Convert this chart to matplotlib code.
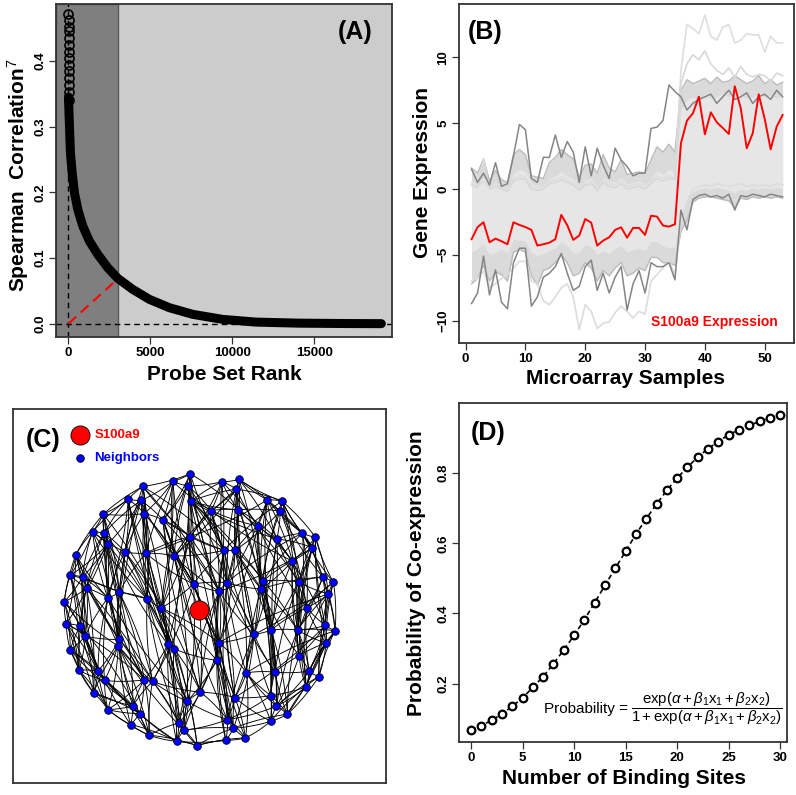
import numpy as np
import matplotlib
matplotlib.use("Agg")
import matplotlib.pyplot as plt
from matplotlib.collections import LineCollection

plt.rcParams["font.family"] = ["Liberation Sans", "DejaVu Sans"]
plt.rcParams["font.weight"] = "bold"
plt.rcParams["mathtext.fontset"] = "custom"
plt.rcParams["mathtext.rm"] = "Liberation Sans:regular"
plt.rcParams["mathtext.it"] = "Liberation Sans:italic:regular"
plt.rcParams["mathtext.bf"] = "Liberation Sans:bold"

# ---------------- (A) ranked correlations ----------------
rank_pts = [1, 63, 122, 226, 366, 569, 874, 1280, 1789, 2399, 3008, 3923, 4939,
            6159, 7584, 9413, 11445, 14000, 17000, 19100]
corr_pts = [0.345, 0.30, 0.26, 0.2298, 0.1994, 0.174, 0.1486, 0.1257, 0.1055,
            0.0852, 0.069, 0.0522, 0.037, 0.0243, 0.0142, 0.0065, 0.0024, 0.0008,
            0.0002, 0.0]
top_rank = [2, 4, 6, 8, 10, 12, 14, 16, 18, 20, 22, 24, 26, 28]
top_corr = [0.4716, 0.462, 0.452, 0.445, 0.4345, 0.424, 0.414, 0.404, 0.394,
            0.384, 0.374, 0.363, 0.353, 0.341]
cutoff_rank = 3000
cutoff_corr = 0.068

# ---------------- (B) expression profiles ----------------
s100a9 = [-3.82, -2.9, -2.53, -4.05, -3.77, -3.97, -4.2, -2.53, -2.73, -2.89,
          -3.11, -4.3, -4.2, -4.08, -3.82, -1.97, -2.76, -3.87, -3.54, -2.28,
          -2.56, -4.3, -3.92, -3.67, -3.11, -2.91, -3.7, -2.96, -2.96, -3.49,
          -2.03, -2.1, -2.78, -2.86, -2.68, 3.47, 5.19, 5.75, 7.01, 4.15,
          5.82, 5.06, 4.63, 4.18, 7.8, 6.13, 3.09, 4.23, 7.19, 5.32,
          3.01, 4.73, 5.62]
core_hi = [0.6, 0.3, 0.9, 0.2, 0.5, 0.2, 0.1, 1.2, 1.5, 1.3, 0.4, 0.3, 0.3, 0.8,
           1.0, 1.3, 1.0, 0.8, 0.2, 0.7, 0.8, 0.3, 0.9, 0.6, 0.5, 0.9, 0.4, 0.5,
           0.6, 0.4, 0.8, 1.4, 1.1, 1.5, 1.2,
           6.0, 6.8, 7.0, 6.8, 7.2, 6.9, 7.0, 7.3, 7.0, 7.4, 7.1, 6.9, 7.0, 7.3,
           7.0, 7.1, 6.9, 7.2]
core_lo = [-4.8, -4.5, -4.2, -5.0, -4.8, -4.6, -4.9, -3.8, -3.9, -4.0, -4.8, -5.1,
           -4.9, -4.7, -4.5, -4.0, -4.3, -4.9, -4.8, -4.2, -4.4, -5.0, -4.7, -4.9,
           -4.5, -4.3, -4.8, -4.6, -4.5, -4.7, -4.0, -4.0, -4.3, -4.5, -4.4,
           -2.0, -0.8, -0.2, 0.0, 0.1, 0.0, 0.1, 0.0, -0.1, -0.3, 0.0, -0.1, 0.1,
           0.0, 0.1, 0.0, 0.1, 0.0]
outer_hi = [1.6, 1.2, 2.3, 0.6, 1.4, 0.7, 0.5, 2.6, 3.0, 2.6, 1.0, 0.9, 0.8, 2.0,
            2.4, 3.0, 2.6, 2.3, 0.9, 1.8, 1.9, 1.2, 2.6, 1.6, 1.3, 2.2, 1.1, 1.2,
            1.3, 1.2, 2.2, 3.2, 2.8, 3.4, 2.8,
            7.5, 8.3, 8.0, 8.2, 8.4, 8.0, 8.5, 8.1, 8.2, 8.6, 8.3, 8.0, 8.2, 8.6,
            8.0, 8.3, 7.9, 8.1]
outer_lo = [-7.2, -6.8, -5.8, -7.0, -6.3, -6.5, -7.0, -4.8, -4.6, -4.8, -6.6, -7.3,
            -6.2, -6.0, -5.6, -5.0, -5.6, -6.6, -6.4, -5.6, -6.0, -7.0, -6.2, -6.6,
            -6.0, -5.6, -6.6, -6.4, -6.0, -6.2, -5.2, -5.2, -5.6, -5.6, -5.8,
            -3.2, -2.4, -1.0, -0.7, -0.6, -0.6, -0.7, -0.8, -0.9, -1.4, -0.7, -0.8,
            -0.6, -0.7, -0.6, -0.7, -0.6, -0.7]
dark_hi = [1.5, 0.5, 1.2, 0.3, 2.0, 0.2, 0.4, 2.5, 4.9, 4.5, 0.8, 0.5, 2.4, 2.4,
           4.1, 2.4, 3.6, 2.8, 0.5, 3.2, 1.0, 3.1, 1.8, 0.8, 3.1, 2.2, 1.7, 1.0,
           1.2, 1.2, 4.6, 4.7, 5.2, 7.9, 7.4,
           7.0, 6.0, 6.5, 6.8, 7.0, 7.2, 6.5, 7.0, 7.5, 6.8, 7.0, 7.3, 6.5, 7.0,
           7.2, 6.8, 7.5, 7.0]
dark_lo = [-8.7, -7.9, -5.1, -8.05, -6.15, -8.6, -9.1, -5.6, -4.5, -4.5, -8.9, -8.2,
           -6.7, -6.4, -5.9, -4.9, -6.4, -7.7, -7.4, -5.9, -5.4, -7.7, -6.4, -7.9,
           -6.7, -5.9, -9.2, -7.2, -6.2, -7.9, -5.6, -5.9, -5.9, -5.6, -6.9,
           -1.6, -3.1, -0.8, -0.5, -0.4, -0.6, -0.5, -0.7, -0.4, -1.6, -0.5, -0.6,
           -0.4, -0.5, -0.6, -0.4, -0.5, -0.6]
light_lo = [-7.0, -6.8, -6.2, -7.5, -7.2, -6.8, -6.5, -6.0, -5.5, -5.5, -7.0, -7.2,
            -8.5, -8.8, -8.2, -7.5, -7.2, -8.2, -10.7, -8.8, -9.3, -10.6, -10.2,
            -10.1, -9.4, -8.9, -9.3, -9.8, -9.3, -9.5, -7.0, -6.5, -6.0, -5.5, -6.5,
            -2.5, -1.0, 0.0, 0.2, 0.3, 0.2, 0.4, 0.3, 0.2, 0.3, 0.4, 0.2, 0.3, 0.2,
            0.3, 0.2, 0.4, 0.3]
light_hi = [0.5, 0.2, 0.6, 0.1, 0.3, 0.1, 0.0, 0.8, 1.0, 0.9, 0.2, 0.1, 0.2, 0.6,
            0.7, 0.9, 0.7, 0.5, 0.1, 0.5, 0.6, 0.1, 0.7, 0.4, 0.3, 0.6, 0.2, 0.3,
            0.4, 0.2, 0.6, 1.0, 0.8, 1.0, 0.9,
            9.0, 12.5, 12.2, 11.8, 13.2, 11.6, 11.3, 12.3, 12.5, 11.1, 11.3, 11.8,
            11.7, 11.7, 10.4, 11.6, 11.1, 11.1]
light_hi2 = [0.3, 0.1, 2.3, 0.0, 0.2, 0.0, -0.2, 0.6, 0.8, 0.7, 0.0, -0.1, 0.0,
             0.4, 0.5, 0.7, 0.5, 0.3, -0.1, 0.3, 0.4, -0.1, 0.5, 0.2, 0.1, 0.4,
             0.0, 0.1, 0.2, 0.0, 0.4, 0.8, 0.6, 0.8, 0.7,
             8.0, 9.5, 10.2, 9.8, 10.5, 9.5, 9.0, 8.7, 9.2, 8.5, 9.3, 8.7, 8.5,
             8.7, 8.6, 8.2, 8.8, 8.6]

# ---------------- (C) co-expression network ----------------
node_x = [570, 518, 428, 562, 665, 716, 709, 384, 422, 573, 801, 846, 309, 432,
          488, 633, 715, 840, 773, 277, 312, 570, 830, 907, 946, 322, 937, 227,
          374, 437, 522, 672, 705, 877, 210, 247, 968, 1000, 580, 680, 789, 896,
          259, 657, 783, 985, 192, 323, 357, 441, 483, 920, 198, 240, 976, 1005,
          813, 893, 255, 762, 357, 354, 503, 521, 657, 978, 210, 897, 650, 236,
          293, 313, 432, 457, 739, 825, 927, 956, 918, 280, 601, 704, 812, 561,
          398, 323, 829, 418, 862, 682, 536, 391, 812, 700, 552, 447, 736, 677,
          529, 591]
node_y = [222, 245, 260, 258, 246, 239, 268, 298, 302, 304, 300, 304, 343, 341,
          360, 332, 330, 334, 378, 396, 400, 410, 417, 400, 412, 433, 443, 464,
          456, 460, 468, 451, 451, 483, 526, 531, 531, 547, 552, 548, 543, 546,
          564, 574, 567, 582, 605, 594, 577, 596, 624, 623, 671, 678, 676, 692,
          690, 690, 708, 703, 718, 738, 733, 746, 728, 729, 750, 767, 781, 810,
          813, 841, 839, 844, 818, 816, 813, 830, 860, 878, 876, 892, 886, 903,
          917, 928, 918, 940, 942, 958, 968, 973, 963, 984, 990, 1005, 1013, 1020,
          1023, 1036]
hub_x, hub_y = 597, 630
edge_list = """
0-2 0-9 0-14 0-31 0-1 1-3 1-13 1-29 1-8 2-7 2-13 2-21 2-49 3-4 3-15 3-30 3-38
4-5 4-6 4-16 4-43 5-10 5-17 5-39 6-11 6-18 6-32 6-21 7-12 7-19 7-28 7-50
8-14 8-20 8-25 8-62 9-15 9-22 9-40 9-16 10-11 10-23 10-33 10-44 11-24 11-26
11-41 12-13 12-25 12-27 12-47 13-28 13-30 13-49 14-21 14-31 14-43 14-38
15-16 15-18 15-39 15-64 16-22 16-32 16-44 17-23 17-26 17-36 18-33 18-40 18-59
18-22 19-20 19-27 19-34 19-35 20-28 20-42 20-48 20-60 21-29 21-38 21-50 21-63
22-26 22-41 22-56 23-24 23-36 23-37 23-51 24-37 24-45 24-54 25-35 25-47 25-52
26-36 26-41 26-57 27-34 27-46 27-52 28-29 28-48 28-61 29-30 29-49 29-62
30-31 30-38 30-43 30-80 31-32 31-39 31-59 32-40 32-44 32-64 33-41 33-51 33-57
34-35 34-46 34-53 35-42 35-47 35-58 36-37 36-45 36-54 37-45 37-55 38-43 38-50
38-64 38-68 39-43 39-59 39-74 40-44 40-56 40-75 41-51 41-57 41-67 42-46 42-53
42-58 42-69 43-64 43-68 43-81 44-56 44-59 44-74 45-51 45-54 45-55 46-52 46-66
47-48 47-60 47-70 48-49 48-61 48-72 49-50 49-62 49-73 50-62 50-63 50-80
51-54 51-57 51-65 52-53 52-66 52-69 53-58 53-70 54-55 54-65 54-77 55-65 55-76
56-57 56-75 56-82 57-67 57-76 58-60 58-69 58-71 59-64 59-74 59-81 60-61 60-71
60-84 61-72 61-79 61-85 62-63 62-73 62-83 63-80 63-90 64-68 64-81 64-89
65-67 65-77 65-78 66-69 66-79 67-76 67-78 67-86 68-80 68-89 68-93 69-70 69-79
70-71 70-85 71-84 71-85 72-73 72-84 72-87 73-83 73-90 73-95 74-75 74-82 74-96
75-82 75-86 76-77 76-78 77-78 78-86 78-88 79-85 80-83 80-90 80-94 81-89 81-93
81-96 82-86 82-92 83-94 83-98 84-87 84-91 85-91 86-88 86-92 87-91 87-95 88-92
89-93 89-97 90-94 90-98 91-95 92-96 93-96 93-97 94-98 94-99 95-98 96-97 97-99
98-99 0-50 0-62 1-38 2-31 3-43 4-21 5-32 6-30 7-29 8-49 9-38 10-39 11-40
12-48 13-50 14-62 15-30 16-39 17-44 18-64 19-47 20-49 21-39 22-59 23-40 24-33
25-48 26-56 27-47 28-49 29-38 30-64 31-43 32-59 33-56 34-58 35-60 36-57 37-51
38-73 39-81 40-57 41-75 42-61 43-80 44-82 45-67 46-58 47-71 48-73 49-83 50-68
51-76 52-70 53-71 54-67 55-77 56-86 57-88 58-79 59-82 60-72 61-87 62-90 63-83
64-74 65-76 66-71 68-97 69-85 70-84 72-95 73-80 74-92 75-88 80-89 81-92 82-88
83-90 84-95 87-98 89-96 90-99 91-98 93-99 2-43 7-62 12-50 19-49 25-63 27-60
34-48 46-61 52-72 66-84 10-21 11-31 17-32 23-39 26-43 36-44 37-59 45-64 54-81
55-74 0-16 1-15 3-31 8-30 13-38 20-62 28-63 35-49 42-73 47-83 53-87 58-91
60-90 61-94 70-95 71-98 79-87 85-95 5-22 6-40 9-44 14-64 21-68 30-89 38-93
43-97 50-99 62-94 63-99 64-96 4-18 15-33 16-41 18-51 22-54 24-41 29-21 31-68
32-56 39-75 40-86 44-67 57-78 59-89 68-81 74-86 77-88 78-92
0-21 0-38 1-14 1-30 2-8 2-12 2-29 3-9 3-14 4-9 4-15 5-11 5-16 6-9 6-15 7-8
7-13 7-20 8-13 8-28 9-31 10-17 10-18 10-22 11-17 11-23 12-19 12-20 13-14 13-29
14-30 15-31 16-17 16-18 17-22 18-32 19-25 19-28 20-25 20-35 21-30 21-31 22-23
22-33 23-26 24-26 25-34 25-42 26-33 27-35 27-42 28-47 28-50 29-48 30-50 31-38
32-39 33-40 33-44 34-42 35-46 36-41 36-51 37-54 38-39 39-44 40-41 41-45 42-47
43-59 44-57 45-57 46-53 47-58 48-60 49-63 50-64 51-56 52-58 53-66 54-57 55-57
56-59 57-65 58-66 59-75 60-70 61-73 62-72 63-68 64-80 65-76 66-70 67-75 68-83
69-71 70-79 71-72 72-85 73-84 74-81 75-76 76-86 77-86 78-82 79-84 80-81 81-82
82-89 83-89 84-85 85-87 86-89 88-93 89-94 90-95 92-93 93-94 95-99 96-99 97-98
0-43 1-50 2-48 3-64 4-39 5-44 6-59 7-47 8-61 9-39 10-56 11-57 12-61 13-62
14-80 15-43 16-59 17-51 18-44 19-61 20-72 21-80 22-75 23-57 24-65 25-60 26-67
27-58 29-63 30-83 31-81 32-74 33-67 34-69 35-70 36-55 37-65 38-94 39-89 40-82
41-78 42-79 43-90 44-92 45-77 46-69 47-72 48-84 49-90 50-98 51-78 52-79 53-85
54-76 55-78 56-88 57-86 59-93 60-91 61-95 62-98 63-94 64-93 65-88
"""
edges = [tuple(int(v) for v in e.split("-")) for e in edge_list.split()]

# ---------------- (D) logistic fit ----------------
sites = list(range(31))
prob = [0.0667, 0.08, 0.095, 0.113, 0.135, 0.159, 0.189, 0.22, 0.256, 0.296,
        0.337, 0.382, 0.431, 0.48, 0.529, 0.577, 0.626, 0.67, 0.712, 0.751,
        0.786, 0.817, 0.846, 0.87, 0.89, 0.91, 0.924, 0.936, 0.948, 0.957, 0.965]

W, H = 796, 795
fig = plt.figure(figsize=(W / 100, H / 100), dpi=100)


def box(l, r, t, b):
    return [l / W, 1 - b / H, (r - l) / W, (b - t) / H]


def style(ax):
    for s in ax.spines.values():
        s.set_color("#333333")
        s.set_linewidth(1.3)
    ax.tick_params(direction="out", length=5, width=0.9, color="#333333",
                   labelsize=9.5, pad=2)
    for lab in ax.get_yticklabels():
        lab.set_rotation(90)
        lab.set_va("center")


# panel A
axA = fig.add_axes(box(56, 392, 4, 337))
axA.set_facecolor("#cccccc")
axA.set_xlim(-760, 19750)
axA.set_ylim(-0.0203, 0.4866)
axA.axvspan(-760, cutoff_rank, facecolor="#7f7f7f", edgecolor="#5a5a5a", lw=1)
axA.axvline(0, color="black", lw=1, ls=(0, (4, 3)))
axA.axhline(0, color="black", lw=1, ls=(0, (4, 3)))
axA.plot(rank_pts, corr_pts, color="black", lw=6.5, solid_capstyle="round",
         solid_joinstyle="round")
axA.plot(top_rank, top_corr, "o", ms=6.5, mfc="none", mec="black", mew=1.2)
axA.plot([0, cutoff_rank], [0, cutoff_corr], color="red", lw=1.5,
         ls=(0, (5, 3)))
axA.set_xticks([0, 5000, 10000, 15000])
axA.set_yticks([0.0, 0.1, 0.2, 0.3, 0.4])
axA.set_yticklabels(["0.0", "0.1", "0.2", "0.3", "0.4"])
style(axA)
fig.text(355 / W, 1 - 32 / H, "(A)", fontsize=18, ha="center", va="center")
fig.text(18 / W, 1 - 175 / H, "Spearman  Correlation$^{7}$", fontsize=15,
         rotation=90, ha="center", va="center")
fig.text(224 / W, 1 - 374 / H, "Probe Set Rank", fontsize=15,
         ha="center", va="center")

# panel B
axB = fig.add_axes(box(459, 794, 4, 343))
x = np.arange(1, len(s100a9) + 1)
axB.fill_between(x, outer_lo, outer_hi, color="#dadada", lw=0)
axB.fill_between(x, core_lo, core_hi, color="#e6e6e6", lw=0)
axB.plot(x, outer_hi, color="#bbbbbb", lw=1)
axB.plot(x, outer_lo, color="#bbbbbb", lw=1)
axB.plot(x, light_lo, color="#dcdcdc", lw=1.2)
axB.plot(x, light_hi, color="#dedede", lw=1.2)
axB.plot(x, light_hi2, color="#d8d8d8", lw=1.2)
axB.plot(x, dark_hi, color="#858585", lw=1.1)
axB.plot(x, dark_lo, color="#858585", lw=1.1)
axB.plot(x, s100a9, color="red", lw=1.4)
axB.set_xlim(-1.1, 54.9)
axB.set_ylim(-11.7, 14.05)
axB.set_xticks([0, 10, 20, 30, 40, 50])
axB.set_yticks([-10, -5, 0, 5, 10])
style(axB)
fig.text(485 / W, 1 - 32 / H, "(B)", fontsize=18, ha="center", va="center")
fig.text(778 / W, 1 - 322 / H, "S100a9 Expression", color="red", fontsize=10,
         ha="right", va="center")
fig.text(423 / W, 1 - 173 / H, "Gene Expression", fontsize=15,
         rotation=90, ha="center", va="center")
fig.text(626 / W, 1 - 378 / H, "Microarray Samples", fontsize=15,
         ha="center", va="center")

# panel C
axC = fig.add_axes(box(13, 386, 409, 783))
axC.set_xlim(38, 1158)
axC.set_ylim(1148, 28)
axC.set_xticks([])
axC.set_yticks([])
for s in axC.spines.values():
    s.set_color("#333333")
    s.set_linewidth(1.3)
t = np.linspace(0, 1, 20)[:, None]
segs = []
for k, (a, b) in enumerate(edges):
    p0 = np.array([node_x[a], node_y[a]], float)
    p2 = np.array([node_x[b], node_y[b]], float)
    d = p2 - p0
    nrm = np.array([-d[1], d[0]])
    ctrl = (p0 + p2) / 2 + (0.06 if k % 2 else -0.06) * nrm
    segs.append((1 - t) ** 2 * p0 + 2 * (1 - t) * t * ctrl + t ** 2 * p2)
axC.add_collection(LineCollection(segs, colors="black", linewidths=0.65))
axC.scatter(node_x, node_y, s=30, c="#0000ff", edgecolors="black",
            linewidths=0.6, zorder=3)
axC.scatter([hub_x], [hub_y], s=190, c="red", edgecolors="black",
            linewidths=0.6, zorder=4)
axC.scatter([240], [107], s=190, c="red", edgecolors="black", linewidths=0.6)
axC.scatter([240], [175], s=30, c="#0000ff", edgecolors="black", linewidths=0.6)
axC.text(283, 107, "S100a9", color="red", fontsize=9.5, va="center")
axC.text(283, 175, "Neighbors", color="#0000ff", fontsize=9.5, va="center")
fig.text(43 / W, 1 - 440 / H, "(C)", fontsize=18, ha="center", va="center")

# panel D
axD = fig.add_axes(box(459, 787, 403, 742))
axD.plot(sites, prob, color="black", lw=1.2, ls=(0, (3, 2)), marker="o",
         ms=5.5, mfc="white", mec="black", mew=1.6)
axD.set_xlim(-1.16, 30.65)
axD.set_ylim(0.0333, 1.0)
axD.set_xticks([0, 5, 10, 15, 20, 25, 30])
axD.set_yticks([0.2, 0.4, 0.6, 0.8])
axD.set_yticklabels(["0.2", "0.4", "0.6", "0.8"])
style(axD)
fig.text(488 / W, 1 - 433 / H, "(D)", fontsize=18, ha="center", va="center")
fig.text(544 / W, 1 - 709 / H, "Probability =", fontsize=11,
         fontweight="normal", ha="left", va="center")
fig.text(631 / W, 1 - 709 / H,
         r"$\dfrac{\mathrm{exp}(\alpha+\beta_1\mathrm{x}_1+\beta_2\mathrm{x}_2)}"
         r"{1+\mathrm{exp}(\alpha+\beta_1\mathrm{x}_1+\beta_2\mathrm{x}_2)}$",
         fontsize=10.8, fontweight="normal", ha="left", va="center")
fig.text(417 / W, 1 - 573 / H, "Probability of Co-expression", fontsize=15,
         rotation=90, ha="center", va="center")
fig.text(624 / W, 1 - 779 / H, "Number of Binding Sites", fontsize=15,
         ha="center", va="center")

fig.savefig("out.png", dpi=100)
